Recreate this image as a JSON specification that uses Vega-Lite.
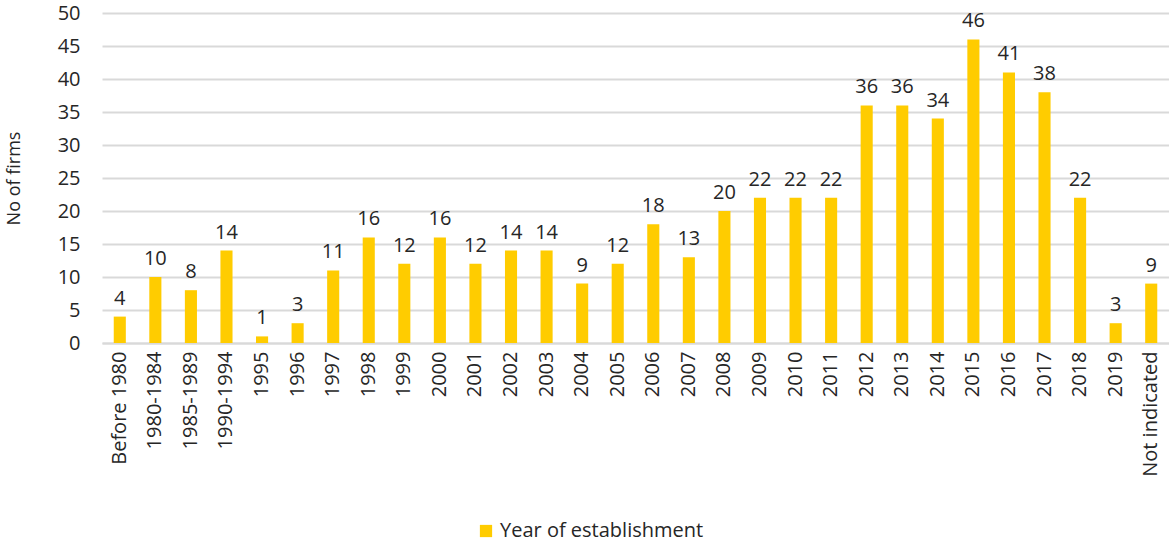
{
  "$schema": "https://vega.github.io/schema/vega-lite/v6.json",
  "autosize": "none",
  "width": 1067,
  "height": 330,
  "padding": {"left": 102, "top": 13, "right": 0, "bottom": 201},
  "background": "white",
  "config": {
    "view": {"stroke": null},
    "font": "Open Sans",
    "text": {"font": "Open Sans"}
  },
  "data": {
    "values": [
      {"year": "Before 1980", "firms": 4, "series": "Year of establishment"},
      {"year": "1980-1984", "firms": 10, "series": "Year of establishment"},
      {"year": "1985-1989", "firms": 8, "series": "Year of establishment"},
      {"year": "1990-1994", "firms": 14, "series": "Year of establishment"},
      {"year": "1995", "firms": 1, "series": "Year of establishment"},
      {"year": "1996", "firms": 3, "series": "Year of establishment"},
      {"year": "1997", "firms": 11, "series": "Year of establishment"},
      {"year": "1998", "firms": 16, "series": "Year of establishment"},
      {"year": "1999", "firms": 12, "series": "Year of establishment"},
      {"year": "2000", "firms": 16, "series": "Year of establishment"},
      {"year": "2001", "firms": 12, "series": "Year of establishment"},
      {"year": "2002", "firms": 14, "series": "Year of establishment"},
      {"year": "2003", "firms": 14, "series": "Year of establishment"},
      {"year": "2004", "firms": 9, "series": "Year of establishment"},
      {"year": "2005", "firms": 12, "series": "Year of establishment"},
      {"year": "2006", "firms": 18, "series": "Year of establishment"},
      {"year": "2007", "firms": 13, "series": "Year of establishment"},
      {"year": "2008", "firms": 20, "series": "Year of establishment"},
      {"year": "2009", "firms": 22, "series": "Year of establishment"},
      {"year": "2010", "firms": 22, "series": "Year of establishment"},
      {"year": "2011", "firms": 22, "series": "Year of establishment"},
      {"year": "2012", "firms": 36, "series": "Year of establishment"},
      {"year": "2013", "firms": 36, "series": "Year of establishment"},
      {"year": "2014", "firms": 34, "series": "Year of establishment"},
      {"year": "2015", "firms": 46, "series": "Year of establishment"},
      {"year": "2016", "firms": 41, "series": "Year of establishment"},
      {"year": "2017", "firms": 38, "series": "Year of establishment"},
      {"year": "2018", "firms": 22, "series": "Year of establishment"},
      {"year": "2019", "firms": 3, "series": "Year of establishment"},
      {"year": "Not indicated", "firms": 9, "series": "Year of establishment"}
    ]
  },
  "encoding": {
    "x": {
      "field": "year",
      "type": "nominal",
      "sort": null,
      "scale": {"paddingInner": 0.66, "paddingOuter": 0.33},
      "axis": {
        "title": null,
        "labelAngle": -90,
        "labelFontSize": 20,
        "labelColor": "#262626",
        "labelPadding": 8,
        "labelLimit": 0,
        "ticks": false,
        "domainColor": "#d9d9d9",
        "domainWidth": 2,
        "labelFont": "Open Sans"
      }
    },
    "y": {
      "field": "firms",
      "type": "quantitative",
      "scale": {"domain": [0, 50], "nice": false},
      "axis": {
        "values": [0, 5, 10, 15, 20, 25, 30, 35, 40, 45, 50],
        "title": "No of firms",
        "titleFontSize": 18,
        "titleFontWeight": "normal",
        "titleColor": "#262626",
        "titlePadding": 34,
        "titleFont": "Open Sans",
        "labelFontSize": 20,
        "labelColor": "#262626",
        "labelPadding": 22,
        "labelFont": "Open Sans",
        "ticks": false,
        "domain": false,
        "gridColor": "#d9d9d9",
        "gridWidth": 2
      }
    }
  },
  "layer": [
    {
      "mark": {"type": "bar"},
      "encoding": {
        "color": {
          "field": "series",
          "type": "nominal",
          "scale": {"range": ["#FFCC00"]},
          "legend": {
            "title": null,
            "orient": "none",
            "legendX": 374,
            "legendY": 508,
            "symbolType": "square",
            "symbolSize": 150,
            "symbolStrokeWidth": 0,
            "labelFontSize": 20,
            "labelColor": "#262626",
            "labelFont": "Open Sans",
            "labelOffset": 4,
            "labelLimit": 0
          }
        }
      }
    },
    {
      "mark": {"type": "text", "baseline": "bottom", "dy": -8, "fontSize": 20, "color": "#262626", "font": "Open Sans"},
      "encoding": {"text": {"field": "firms", "type": "quantitative"}}
    }
  ]
}
